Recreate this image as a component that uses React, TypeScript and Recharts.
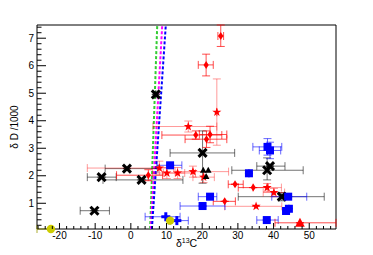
import React from "react";
import { ScatterChart, Scatter, XAxis, YAxis, ErrorBar, ReferenceLine, ReferenceArea } from "recharts";

// rows: [x, y, xErrLow, xErrHigh, yErrLow, yErrHigh]
const blackCrossPts = [
  [-10.2, 0.73, 4.0, 4.2, 0, 0],
  [-8.2, 1.95, 4.0, 4.1, 0, 0],
  [-1.1, 2.26, 6.1, 8.7, 0, 0],
  [3.0, 1.85, 10.8, 11.6, 0, 0],
  [7.0, 4.96, 0, 0, 0, 0],
  [20.1, 2.83, 9.1, 9.0, 1.1, 0.8],
  [38.2, 2.2, 9.9, 10.1, 0.35, 0.45],
  [39.0, 2.35, 3.7, 4.2, 0, 0],
  [42.3, 1.24, 12.2, 11.9, 0.15, 0.15],
];
const redDiamondPts = [
  [25.2, 7.08, 0.8, 0.8, 0.38, 0.4],
  [21.1, 6.03, 2.2, 2.0, 0.4, 0.39],
  [18.2, 3.48, 9.5, 7.3, 0.15, 0.15],
  [21.2, 3.33, 6.0, 5.7, 0.3, 0.3],
  [22.2, 3.5, 3.0, 4.7, 0.3, 0.3],
  [4.9, 2.02, 8.9, 4.0, 0.2, 0.2],
  [29.2, 1.69, 1.9, 2.3, 0, 0],
  [34.3, 1.57, 4.2, 4.2, 0, 0],
  [26.3, 1.07, 3.2, 3.0, 0, 0],
];
const redStarPts = [
  [24.1, 4.31, 0, 0, 1.2, 1.21],
  [16.1, 3.79, 9.9, 8.0, 0.2, 0.2],
  [8.0, 2.28, 20.2, 4.0, 0.25, 0.25],
  [10.1, 2.1, 4.0, 5.0, 0.2, 0.2],
  [13.1, 2.1, 4.0, 5.0, 0.2, 0.2],
  [17.4, 2.15, 5.0, 10.0, 0.2, 0.2],
  [20.4, 1.95, 3.0, 3.0, 0.2, 0.2],
  [38.2, 1.57, 4.0, 4.0, 0.15, 0.15],
  [40.1, 1.39, 3.0, 3.0, 0.15, 0.15],
  [35.1, 0.89, 8.8, 7.2, 0, 0],
];
const blackTrianglePts = [
  [20.3, 2.2, 0, 0, 0, 0],
  [21.7, 2.2, 0, 0, 0, 0],
  [21.1, 1.97, 0, 0, 0, 0],
];
const redTrianglePts = [[47.4, 0.29, 7.0, 10.1, 0, 0]];
const blueSquarePts = [
  [11.0, 2.38, 3.7, 3.3, 0, 0],
  [33.1, 2.09, 0, 0, 0, 0],
  [38.3, 3.05, 4.1, 4.0, 0.3, 0.3],
  [39.0, 2.92, 3.0, 3.0, 0.3, 0.3],
  [44.1, 1.24, 4.6, 5.2, 0, 0],
  [43.5, 0.72, 0, 0, 0, 0],
  [44.3, 0.8, 0, 0, 0, 0],
  [38.1, 0.39, 2.8, 3.2, 0, 0],
  [22.2, 1.24, 3.3, 1.9, 0, 0],
  [20.1, 0.9, 6.3, 6.3, 0, 0],
];
const bluePlusPts = [
  [9.8, 0.51, 5.8, 4.0, 0, 0],
  [12.9, 0.37, 2.4, 3.2, 0, 0],
];
const yellowCirclePts = [
  [-22.4, 0.065, 3.9, 0, 0, 0],
  [11.0, 0.37, 0, 0, 0, 0],
];
// fit lines: [x at bottom, x at top]
const greenLine = [5.4, 7.4];
const magentaLine = [5.6, 8.8];
const blueLine = [5.9, 9.8];

const xMajorTicks = [-20, -10, 0, 10, 20, 30, 40, 50];
const yMajorTicks = [1, 2, 3, 4, 5, 6, 7];
const X_MIN = -26.3, X_MAX = 57.5, Y_MIN = 0.065, Y_MAX = 7.48;

const xTicks: number[] = [];
for (let v = -26; v <= 56; v += 2) xTicks.push(v);
const yTicks: number[] = [];
for (let k = 1; k <= 37; k++) yTicks.push(Math.round(k * 2) / 10);

const rows = (pts: number[][]) =>
  pts.map((r) => ({ x: r[0], y: r[1], ex: [r[2], r[3]], ey: [r[4], r[5]] }));

const FONT = "'Liberation Sans', Arial, Helvetica, sans-serif";

const XTick = (p: any) => {
  const { x, y, payload } = p;
  const v = payload.value;
  const major = xMajorTicks.some((m) => Math.abs(m - v) < 1e-6);
  return (
    <g>
      <line x1={x} y1={y} x2={x} y2={y - (major ? 6 : 3)} stroke="#000" strokeWidth={1} />
      {major && (
        <text x={x} y={y + 10} textAnchor="middle" fontSize={10} fontFamily={FONT} fill="#000">
          {String(v)}
        </text>
      )}
    </g>
  );
};
const YTick = (p: any) => {
  const { x, y, payload } = p;
  const v = payload.value;
  const major = yMajorTicks.some((m) => Math.abs(m - v) < 1e-6);
  return (
    <g>
      <line x1={x} y1={y} x2={x + (major ? 9 : 4.5)} y2={y} stroke="#000" strokeWidth={1} />
      {major && (
        <text x={x - 3} y={y + 3.6} textAnchor="end" fontSize={10} fontFamily={FONT} fill="#000">
          {String(Math.round(v))}
        </text>
      )}
    </g>
  );
};

const crossShape = (p: any) => {
  const { cx, cy } = p;
  const a = 4;
  return (
    <g stroke="#000" strokeWidth={3}>
      <line x1={cx - a} y1={cy - a} x2={cx + a} y2={cy + a} />
      <line x1={cx - a} y1={cy + a} x2={cx + a} y2={cy - a} />
    </g>
  );
};
const plusShape = (p: any) => {
  const { cx, cy } = p;
  const a = 4.5;
  return (
    <g stroke="#0000ff" strokeWidth={3}>
      <line x1={cx - a} y1={cy} x2={cx + a} y2={cy} />
      <line x1={cx} y1={cy - a} x2={cx} y2={cy + a} />
    </g>
  );
};
const diamondShape = (p: any) => {
  const { cx, cy } = p;
  return <polygon points={`${cx},${cy - 4} ${cx + 2.6},${cy} ${cx},${cy + 4} ${cx - 2.6},${cy}`} fill="#ff0000" />;
};
const starShape = (p: any) => {
  const { cx, cy } = p;
  const pts: string[] = [];
  for (let i = 0; i < 10; i++) {
    const r = i % 2 === 0 ? 4.8 : 1.9;
    const ang = -Math.PI / 2 + (i * Math.PI) / 5;
    pts.push(`${cx + r * Math.cos(ang)},${cy + r * Math.sin(ang)}`);
  }
  return <polygon points={pts.join(" ")} fill="#ff0000" />;
};
const squareShape = (p: any) => {
  const { cx, cy } = p;
  return <rect x={cx - 4} y={cy - 4} width={8} height={8} fill="#0000ff" />;
};
const smallTriShape = (p: any) => {
  const { cx, cy } = p;
  return <polygon points={`${cx},${cy - 3.5} ${cx + 3.3},${cy + 2.5} ${cx - 3.3},${cy + 2.5}`} fill="#000" />;
};
const bigTriShape = (p: any) => {
  const { cx, cy } = p;
  return <polygon points={`${cx},${cy - 5} ${cx + 4.8},${cy + 4} ${cx - 4.8},${cy + 4}`} fill="#ff0000" />;
};
const circleShape = (p: any) => {
  const { cx, cy } = p;
  return <circle cx={cx} cy={cy} r={4.2} fill="#cccc00" />;
};

const errBars = (color: string, opacity: number) => [
  <ErrorBar key="ex" dataKey="ex" direction="x" width={4} stroke={color} strokeOpacity={opacity} strokeWidth={1} />,
  <ErrorBar key="ey" dataKey="ey" direction="y" width={4} stroke={color} strokeOpacity={opacity} strokeWidth={1} />,
];

const XTitle = () => (
  <text x={186.5} y={247} textAnchor="middle" fontSize={10.5} fontFamily={FONT} fill="#000">
    <tspan>δ</tspan>
    <tspan dy={-4} fontSize={7}>13</tspan>
    <tspan dy={4}>C</tspan>
  </text>
);
const YTitle = () => (
  <text x={0} y={0} transform="translate(18,127) rotate(-90)" textAnchor="middle" fontSize={10} fontFamily={FONT} fill="#000">
    δ D /1000
  </text>
);

export default function App() {
  return (
    <div style={{ position: "absolute", left: 0, top: 0, width: 373, height: 255, background: "#fff" }}>
      <ScatterChart width={373} height={255} margin={{ top: 25, right: 37, bottom: 0, left: 0 }}>
        <XAxis
          type="number"
          dataKey="x"
          domain={[X_MIN, X_MAX]}
          ticks={xTicks}
          interval={0}
          tick={<XTick />}
          tickSize={0}
          tickMargin={0}
          tickLine={false}
          axisLine={false}
          height={26}
          label={{ content: () => <XTitle /> }}
        />
        <YAxis
          type="number"
          dataKey="y"
          domain={[Y_MIN, Y_MAX]}
          ticks={yTicks}
          interval={0}
          tick={<YTick />}
          tickSize={0}
          tickMargin={0}
          tickLine={false}
          axisLine={false}
          width={37}
          label={{ content: () => <YTitle /> }}
        />
        <ReferenceArea x1={X_MIN} x2={X_MAX} y1={Y_MIN} y2={Y_MAX} fill="none" stroke="#000" strokeWidth={1} fillOpacity={0} />
        <ReferenceLine segment={[{ x: greenLine[0], y: Y_MIN }, { x: greenLine[1], y: Y_MAX }]} stroke="#33cc33" strokeWidth={2} strokeDasharray="3 2" />
        <ReferenceLine segment={[{ x: magentaLine[0], y: Y_MIN }, { x: magentaLine[1], y: Y_MAX }]} stroke="#ff00ff" strokeWidth={2} strokeDasharray="3 2" />
        <ReferenceLine segment={[{ x: blueLine[0], y: Y_MIN }, { x: blueLine[1], y: Y_MAX }]} stroke="#0000ff" strokeWidth={2} strokeDasharray="3 2" />
        <Scatter data={rows(blackCrossPts)} shape={crossShape} isAnimationActive={false}>
          {errBars("#000", 0.55)}
        </Scatter>
        <Scatter data={rows(redStarPts)} shape={starShape} isAnimationActive={false}>
          {errBars("#ff0000", 0.4)}
        </Scatter>
        <Scatter data={rows(redDiamondPts)} shape={diamondShape} isAnimationActive={false}>
          {errBars("#ff0000", 0.7)}
        </Scatter>
        <Scatter data={rows(blackTrianglePts)} shape={smallTriShape} isAnimationActive={false} />
        <Scatter data={rows(blueSquarePts)} shape={squareShape} isAnimationActive={false}>
          {errBars("#0000ff", 0.6)}
        </Scatter>
        <Scatter data={rows(bluePlusPts)} shape={plusShape} isAnimationActive={false}>
          {errBars("#0000ff", 0.6)}
        </Scatter>
        <Scatter data={rows(yellowCirclePts)} shape={circleShape} isAnimationActive={false}>
          {errBars("#999900", 0.8)}
        </Scatter>
        <Scatter data={rows(redTrianglePts)} shape={bigTriShape} isAnimationActive={false}>
          {errBars("#ff0000", 0.7)}
        </Scatter>
      </ScatterChart>
    </div>
  );
}
